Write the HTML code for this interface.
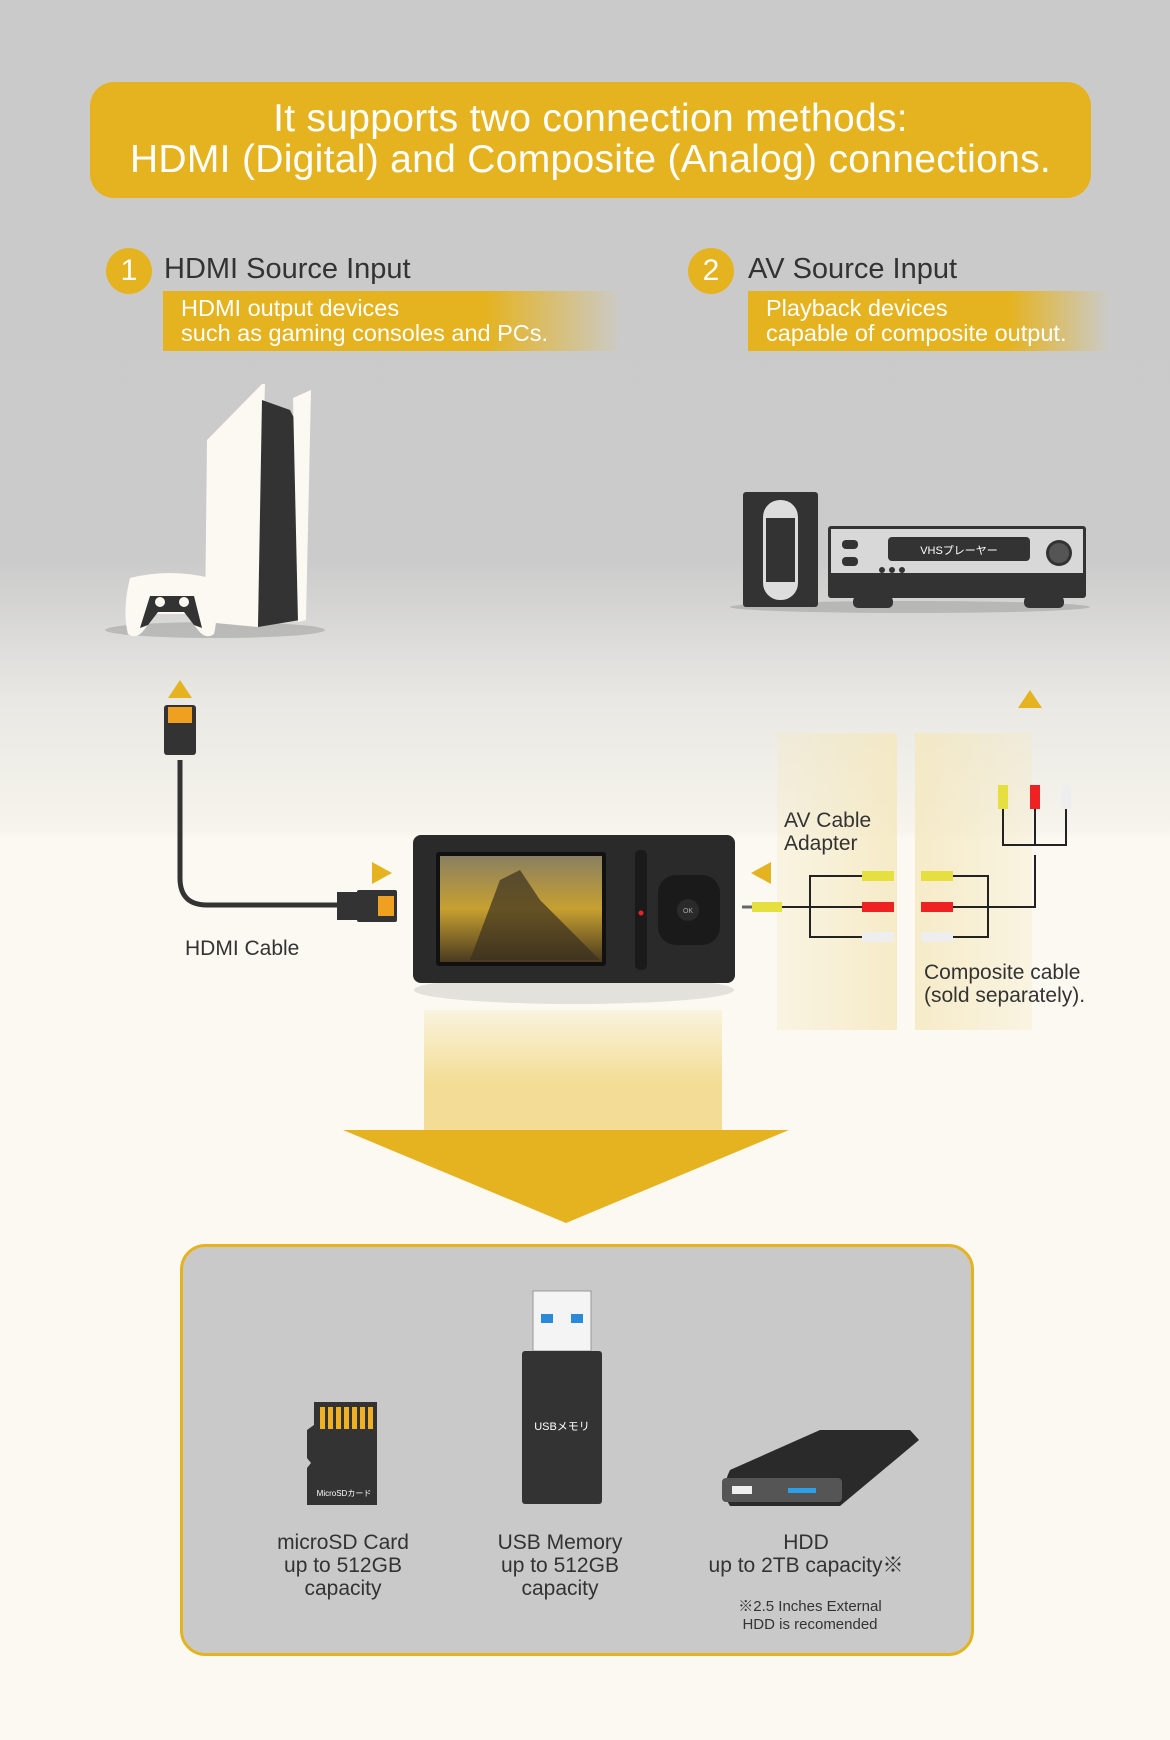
<!DOCTYPE html>
<html><head><meta charset="utf-8"><style>
*{margin:0;padding:0;box-sizing:border-box}
body{width:1170px;height:1740px;position:relative;overflow:hidden;font-family:"Liberation Sans","Noto Sans CJK JP",sans-serif;background:linear-gradient(#cacaca 0px,#cbcbcb 560px,#e9e8e4 700px,#f6f4ec 830px,#fbf9f1 840px,#fbf9f1 1740px)}
.a{position:absolute}
.banner{left:90px;top:82px;width:1001px;height:116px;background:#e5b320;border-radius:24px;color:#fff;font-size:39px;text-align:center;line-height:41px;padding-top:16px;letter-spacing:0.3px}
.circ{width:46px;height:46px;border-radius:50%;background:#e5b320;color:#fff;font-size:30px;text-align:center;line-height:46px}
.title{font-size:29px;color:#333}
.strip{height:60px;color:#fff;font-size:23.5px;line-height:25px;padding:5px 0 0 18px}
.lbl{font-size:21px;color:#333;line-height:23px}
.c{text-align:center}
</style></head><body>
<div class="a banner">It supports two connection methods:<br>HDMI (Digital) and Composite (Analog) connections.</div>

<div class="a circ" style="left:106px;top:248px">1</div>
<div class="a title" style="left:164px;top:253px">HDMI Source Input</div>
<div class="a strip" style="left:163px;top:291px;width:460px;background:linear-gradient(90deg,#e5b320 0%,#e5b320 70%,rgba(229,179,32,0) 100%)">HDMI output devices<br>such as gaming consoles and PCs.</div>

<div class="a circ" style="left:688px;top:248px">2</div>
<div class="a title" style="left:748px;top:253px">AV Source Input</div>
<div class="a strip" style="left:748px;top:291px;width:362px;background:linear-gradient(90deg,#e5b320 0%,#e5b320 72%,rgba(229,179,32,0) 100%)">Playback devices<br>capable of composite output.</div>

<div class="a" style="left:777px;top:733px;width:120px;height:297px;background:linear-gradient(90deg,rgba(245,232,190,0.3),rgba(245,232,190,0.8))"></div>
<div class="a" style="left:915px;top:733px;width:117px;height:297px;background:linear-gradient(90deg,rgba(245,232,190,0.8),rgba(245,232,190,0.3))"></div>
<div class="a" style="left:424px;top:1010px;width:298px;height:122px;background:linear-gradient(rgba(243,221,150,0.2),#f3dd96 60%)"></div>

<svg class="a" style="left:0;top:0" width="1170" height="1740">
 <ellipse cx="215" cy="630" rx="110" ry="8" fill="#999" opacity="0.5"/>
 <path d="M262 384 L265 384 L258 627 L205 622 L207 440 Z" fill="#fbf9f1"/>
 <path d="M262 400 L290 410 L305 440 L300 620 L258 627 Z" fill="#333"/>
 <path d="M293 398 L311 390 L306 620 L298 622 Z" fill="#fbf9f1"/>
 <path d="M130 578 Q170 568 210 578 Q220 610 214 634 Q206 640 198 630 L186 614 L156 614 L144 630 Q136 640 128 634 Q122 610 130 578 Z" fill="#fbf9f1"/>
 <path d="M150 596 L194 596 L202 628 L194 625 L184 612 L158 612 L148 625 L140 628 Z" fill="#333"/>
 <circle cx="160" cy="602" r="5" fill="#fbf9f1"/><circle cx="184" cy="602" r="5" fill="#fbf9f1"/>
 <ellipse cx="910" cy="607" rx="180" ry="6" fill="#999" opacity="0.5"/>
 <rect x="743" y="492" width="75" height="115" rx="3" fill="#333"/>
 <rect x="763" y="500" width="35" height="100" rx="17" fill="#ddd"/>
 <rect x="766" y="518" width="29" height="64" fill="#333"/>
 <rect x="828" y="526" width="258" height="72" rx="3" fill="#333"/>
 <rect x="831" y="529" width="252" height="44" fill="#d8d8d8"/>
 <rect x="888" y="537" width="142" height="24" rx="4" fill="#333"/>
 <text x="959" y="554" fill="#fff" font-size="11" text-anchor="middle" font-family="Liberation Sans,Noto Sans CJK JP,sans-serif">VHSプレーヤー</text>
 <circle cx="1059" cy="553" r="13" fill="#333"/><circle cx="1059" cy="553" r="10" fill="#555"/>
 <rect x="842" y="540" width="16" height="9" rx="4" fill="#333"/><rect x="842" y="557" width="16" height="9" rx="4" fill="#333"/>
 <circle cx="882" cy="570" r="3" fill="#333"/><circle cx="892" cy="570" r="3" fill="#333"/><circle cx="902" cy="570" r="3" fill="#333"/>
 <rect x="853" y="596" width="40" height="12" rx="5" fill="#333"/><rect x="1024" y="596" width="40" height="12" rx="5" fill="#333"/>
 <polygon points="168,698 192,698 180,680" fill="#e5b320"/>
 <polygon points="1018,708 1042,708 1030,690" fill="#e5b320"/>
 <polygon points="372,862 372,884 392,873" fill="#e5b320"/>
 <polygon points="771,862 771,884 751,873" fill="#e5b320"/>
 <path d="M180 760 L180 878 Q180 905 207 905 L340 905" stroke="#333" stroke-width="5" fill="none"/>
 <rect x="164" y="705" width="32" height="50" rx="3" fill="#333"/>
 <rect x="168" y="707" width="24" height="16" fill="#f0a020"/>
 <rect x="337" y="892" width="20" height="28" fill="#333"/>
 <rect x="357" y="890" width="40" height="32" rx="2" fill="#333"/>
 <rect x="378" y="896" width="16" height="20" fill="#f0a020"/>
 <ellipse cx="574" cy="990" rx="160" ry="14" fill="#aaa" opacity="0.3"/>
 <rect x="413" y="835" width="322" height="148" rx="8" fill="#2a2a2a"/>
 <rect x="436" y="852" width="170" height="114" rx="3" fill="#111"/>
 <defs><linearGradient id="g" x1="0" y1="0" x2="0" y2="1"><stop offset="0" stop-color="#8a8060"/><stop offset="0.5" stop-color="#c7a030"/><stop offset="1" stop-color="#4a3a20"/></linearGradient></defs>
 <rect x="440" y="856" width="162" height="106" fill="url(#g)"/>
 <path d="M470 960 L500 880 L520 870 L540 900 L600 960 Z" fill="#3a3020" opacity="0.7"/>
 <rect x="635" y="850" width="12" height="120" rx="5" fill="#1a1a1a"/>
 <circle cx="641" cy="913" r="2.5" fill="#e22"/>
 <rect x="658" y="875" width="62" height="70" rx="18" fill="#1a1a1a"/>
 <circle cx="688" cy="910" r="11" fill="#2a2a2a"/>
 <text x="688" y="913" fill="#aaa" font-size="7" text-anchor="middle">OK</text>
 <path d="M742 907 L752 907" stroke="#666" stroke-width="3"/>
 <path d="M780 907 L810 907 M810 907 L810 876 L870 876 M810 907 L870 907 M810 907 L810 937 L870 937" stroke="#222" stroke-width="2" fill="none"/>
 <rect x="752" y="902" width="30" height="10" fill="#e5e040"/>
 <rect x="862" y="871" width="32" height="10" fill="#e5e040"/>
 <rect x="862" y="902" width="32" height="10" fill="#e22"/>
 <rect x="862" y="932" width="32" height="10" fill="#eee"/>
 <rect x="921" y="871" width="32" height="10" fill="#e5e040"/>
 <rect x="921" y="902" width="32" height="10" fill="#e22"/>
 <rect x="921" y="932" width="32" height="10" fill="#eee"/>
 <path d="M953 876 L988 876 L988 907 L1035 907 L1035 855 M953 907 L988 907 M953 937 L988 937 L988 907 M1003 800 L1003 845 L1035 845 L1066 845 L1066 800 M1035 845 L1035 800" stroke="#222" stroke-width="2" fill="none"/>
 <rect x="998" y="785" width="10" height="24" fill="#e5e040"/>
 <rect x="1030" y="785" width="10" height="24" fill="#e22"/>
 <rect x="1061" y="785" width="10" height="24" fill="#eee"/>
 <polygon points="343,1130 789,1130 566,1223" fill="#e5b320"/>
 <rect x="181.5" y="1245.5" width="791" height="409" rx="24" fill="#c9c9c9" stroke="#e5b320" stroke-width="3"/>
 <path d="M314 1402 L377 1402 L377 1505 L307 1505 L307 1468 L311 1463 L307 1458 L307 1430 L314 1425 Z" fill="#333"/>
 <g fill="#f0b020"><rect x="320" y="1407" width="5" height="22"/><rect x="328" y="1407" width="5" height="22"/><rect x="336" y="1407" width="5" height="22"/><rect x="344" y="1407" width="5" height="22"/><rect x="352" y="1407" width="5" height="22"/><rect x="360" y="1407" width="5" height="22"/><rect x="368" y="1407" width="5" height="22"/></g>
 <text x="344" y="1496" fill="#fff" font-size="8" text-anchor="middle" font-family="Liberation Sans,Noto Sans CJK JP,sans-serif">MicroSDカード</text>
 <rect x="533" y="1291" width="58" height="60" fill="#f4f4f4" stroke="#999"/>
 <rect x="541" y="1314" width="12" height="9" fill="#2a8ad8"/><rect x="571" y="1314" width="12" height="9" fill="#2a8ad8"/>
 <rect x="522" y="1351" width="80" height="153" rx="3" fill="#333"/>
 <text x="562" y="1430" fill="#fff" font-size="11" text-anchor="middle" font-family="Liberation Sans,Noto Sans CJK JP,sans-serif">USBメモリ</text>
 <path d="M730 1470 L820 1430 L910 1430 L919 1440 L840 1506 L730 1506 Q720 1490 730 1470 Z" fill="#2a2a2a"/>
 <rect x="722" y="1478" width="120" height="24" rx="4" fill="#555"/>
 <rect x="732" y="1486" width="20" height="8" fill="#eee"/>
 <rect x="788" y="1488" width="28" height="5" fill="#2aa0e8"/>
</svg>

<div class="a lbl" style="left:784px;top:809px">AV Cable<br>Adapter</div>
<div class="a lbl" style="left:185px;top:937px">HDMI Cable</div>
<div class="a lbl" style="left:924px;top:961px">Composite cable<br>(sold separately).</div>

<div class="a lbl c" style="left:243px;top:1531px;width:200px">microSD Card<br>up to 512GB<br>capacity</div>
<div class="a lbl c" style="left:460px;top:1531px;width:200px">USB Memory<br>up to 512GB<br>capacity</div>
<div class="a lbl c" style="left:656px;top:1531px;width:300px">HDD<br>up to 2TB capacity※</div>
<div class="a c" style="left:690px;top:1598px;width:240px;font-size:15px;line-height:18px;color:#333">※2.5 Inches External<br>HDD is recomended</div>
</body></html>
